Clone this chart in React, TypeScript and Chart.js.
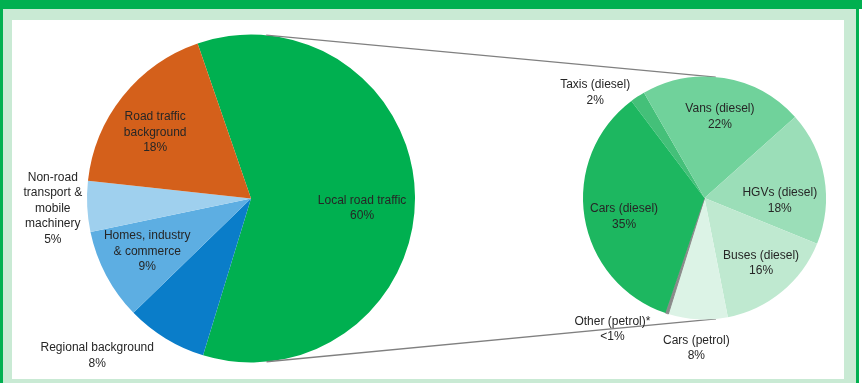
import React, { useEffect, useRef } from 'react';
import { Chart, registerables } from 'chart.js';

Chart.register(...registerables);

// ---- Data ----
const mainLabels = [
  'Local road traffic',
  'Regional background',
  'Homes, industry\n& commerce',
  'Non-road\ntransport &\nmobile\nmachinery',
  'Road traffic\nbackground',
];
const mainValues = [60, 8, 9, 5, 18];
const mainValueText = ['60%', '8%', '9%', '5%', '18%'];

const subLabels = [
  'Taxis (diesel)',
  'Vans (diesel)',
  'HGVs (diesel)',
  'Buses (diesel)',
  'Cars (petrol)',
  'Other (petrol)*',
  'Cars (diesel)',
];
const subValues = [2, 22, 18, 16, 8, 0.4, 35];
const subValueText = ['2%', '22%', '18%', '16%', '8%', '<1%', '35%'];

// ---- Styles ----
const mainColors = ['#00b050', '#0a7dc9', '#5daee2', '#9fd0ee', '#d4601b'];
const subColors = ['#44c079', '#70d29b', '#9bdeb8', '#bfe9d0', '#dcf3e6', '#8a8a8a', '#1db760'];
// label placement: [radius factor, angle offset in degrees]
const mainLabelLayout: [number, number][] = [
  [0.68, 6],
  [1.34, 13],
  [0.71, 1],
  [1.21, 0],
  [0.71, -4],
];
const subLabelLayout: [number, number][] = [
  [1.25, -12.6],
  [0.68, 1.6],
  [0.62, 11.8],
  [0.71, -1.5],
  [1.24, 0],
  [1.32, 17],
  [0.68, -4],
];

const FONT = '12px "Liberation Sans", Arial, Helvetica, sans-serif';
const TEXT_COLOR = '#262626';
const LINE_H = 15.5;

function labelPlugin(id: string, labels: string[], values: string[], layout: [number, number][]) {
  return {
    id,
    afterDatasetsDraw(chart: any) {
      const ctx = chart.ctx;
      const meta = chart.getDatasetMeta(0);
      ctx.save();
      ctx.font = FONT;
      ctx.fillStyle = TEXT_COLOR;
      ctx.textAlign = 'center';
      ctx.textBaseline = 'middle';
      meta.data.forEach((arc: any, i: number) => {
        const p = arc.getProps(['x', 'y', 'startAngle', 'endAngle', 'outerRadius'], true);
        const [f, off] = layout[i];
        const mid = (p.startAngle + p.endAngle) / 2 + (off * Math.PI) / 180;
        const cx = p.x + Math.cos(mid) * p.outerRadius * f;
        const cy = p.y + Math.sin(mid) * p.outerRadius * f;
        const lines = labels[i].split('\n').concat([values[i]]);
        const top = cy - ((lines.length - 1) * LINE_H) / 2;
        lines.forEach((t, k) => ctx.fillText(t, cx, top + k * LINE_H));
      });
      ctx.restore();
    },
  };
}

export default function App() {
  const leftRef = useRef<HTMLCanvasElement>(null);
  const rightRef = useRef<HTMLCanvasElement>(null);

  useEffect(() => {
    const left = new Chart(leftRef.current!, {
      type: 'pie',
      data: {
        labels: mainLabels,
        datasets: [{ data: mainValues, backgroundColor: mainColors, borderWidth: 0 }],
      },
      options: {
        responsive: false,
        animation: false,
        rotation: -19,
        layout: { padding: { left: 87, right: 447, top: 34, bottom: 20 } },
        plugins: { legend: { display: false }, tooltip: { enabled: false } },
      },
      plugins: [labelPlugin('mainLabels', mainLabels, mainValueText, mainLabelLayout)],
    } as any);

    const connector = {
      id: 'connector',
      beforeDatasetsDraw(chart: any) {
        const a = left.getDatasetMeta(0).data[0] as any;
        const b = chart.getDatasetMeta(0).data[0] as any;
        if (!a || !b) return;
        const x1 = a.x, y1 = a.y, r1 = a.outerRadius;
        const x2 = b.x, y2 = b.y, r2 = b.outerRadius;
        const D = Math.hypot(x2 - x1, y2 - y1);
        const base = Math.atan2(y2 - y1, x2 - x1);
        const beta = Math.acos((r1 - r2) / D);
        const ctx = chart.ctx;
        ctx.save();
        ctx.strokeStyle = '#808080';
        ctx.lineWidth = 1.3;
        [base - beta, base + beta].forEach((ang) => {
          const nx = Math.cos(ang), ny = Math.sin(ang);
          ctx.beginPath();
          ctx.moveTo(x1 + nx * r1, y1 + ny * r1);
          ctx.lineTo(x2 + nx * r2, y2 + ny * r2);
          ctx.stroke();
        });
        ctx.restore();
      },
    };

    const right = new Chart(rightRef.current!, {
      type: 'pie',
      data: {
        labels: subLabels,
        datasets: [{
          data: subValues,
          backgroundColor: subColors,
          borderColor: '#8a8a8a',
          borderWidth: [0, 0, 0, 0, 0, 1, 0],
        }],
      },
      options: {
        responsive: false,
        animation: false,
        rotation: -37,
        layout: { padding: { left: 582, right: 35, top: 76, bottom: 63 } },
        plugins: { legend: { display: false }, tooltip: { enabled: false } },
      },
      plugins: [connector, labelPlugin('subLabels', subLabels, subValueText, subLabelLayout)],
    } as any);

    return () => {
      right.destroy();
      left.destroy();
    };
  }, []);

  const abs: React.CSSProperties = { position: 'absolute' };
  return (
    <div style={{ ...abs, left: 0, top: 0, width: 862, height: 383, overflow: 'hidden', background: '#ffffff' }}>
      <div style={{ ...abs, left: 0, top: 0, width: 862, height: 9, background: '#00b050' }} />
      <div style={{ ...abs, left: 0, top: 0, width: 859, height: 400, background: '#00b050' }} />
      <div style={{ ...abs, left: 3, top: 9, width: 853, height: 400, background: '#c9ead4' }} />
      <div style={{ ...abs, left: 12, top: 20, width: 832, height: 359, background: '#ffffff' }} />
      <canvas ref={leftRef} width={862} height={383} style={{ ...abs, left: 0, top: 0 }} />
      <canvas ref={rightRef} width={862} height={383} style={{ ...abs, left: 0, top: 0 }} />
    </div>
  );
}
